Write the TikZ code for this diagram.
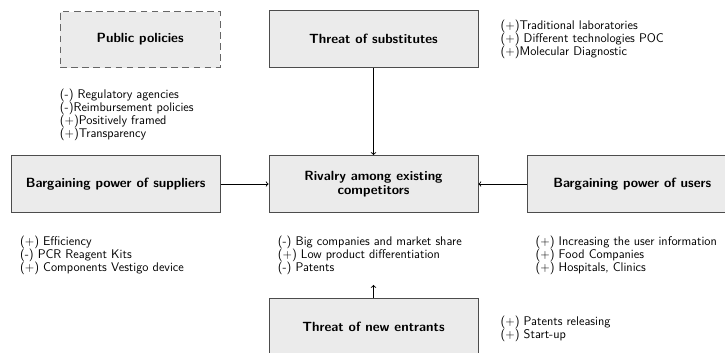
\documentclass[tikz,border=0pt]{standalone}
\usetikzlibrary{arrows,positioning}
\tikzstyle{every picture}+=[font=\sffamily]

\begin{document}
\begin{tikzpicture}
			[x=0.9pt, y=0.9pt, inner sep=0pt,
			force/.style		= {draw=black!70, fill=black!8, thick, minimum width=188pt, minimum height=51.3pt, font=\sffamily\bfseries\fontsize{12}{12.8}\selectfont, align=center},
			policy/.style		= {force, dash pattern=on 6pt off 4pt, draw=black!60, minimum width=144pt, minimum height=50.4pt},
			factors/.style		= {align=left, inner sep=0pt, font=\sffamily\fontsize{11.3}{11.7}\selectfont},
			push/.style			= {->, thick}]
			
			\useasboundingbox (0,0) rectangle (725,-353);
			
			\node [force]	at (373.5,-184)							(rival)		{Rivalry among existing\\competitors};
			\node [force]	[above = 78.3pt of rival]				(subst)		{Threat of substitutes};
			\node [force]	[below = 76.5pt of rival]				(entrant)	{Threat of new entrants};
			\node [force]	[left  = 43.2pt of rival]				(supplier)	{Bargaining power of suppliers};
			\node [force]	[right = 44.1pt of rival]				(user)		{Bargaining power of users};
			\node [policy]	[above left = 78.3pt and 43.2pt of rival.north west, anchor=south east]	(public)	{Public policies};
			
			\node [factors]	[below right = 18.9pt and 0pt of public.south west]	(publicf)
				{(-) Regulatory agencies\\(-)Reimbursement policies\\($+$)Positively framed\\($+$)Transparency};
			\node [factors]	[below right = 9pt and 19.8pt of subst.north east]	(substf)
				{($+$)Traditional laboratories\\($+$) Different technologies POC\\($+$)Molecular Diagnostic};
			\node [factors]	[below right = 20.7pt and 8.1pt of supplier.south west]	(supplierf)
				{($+$) Efficiency\\(-) PCR Reagent Kits\\($+$) Components Vestigo device};
			\node [factors]	[below right = 20.7pt and 8.1pt of rival.south west]	(rivalf)
				{(-) Big companies and market share\\($+$) Low product differentiation\\(-) Patents};
			\node [factors]	[below right = 20.7pt and 7.2pt of user.south west]	(userf)
				{($+$) Increasing the user information\\($+$) Food Companies\\($+$) Hospitals, Clinics};
			\node [factors]	[below right = 16.2pt and 19.8pt of entrant.north east]	(entrantf)
				{($+$) Patents releasing\\($+$) Start-up};
			
			\draw [push] (subst) -- (rival);
			\draw [push] (supplier) -- (rival);
			\draw [push] (user) -- (rival);
			\draw [push, shorten >=9pt] (entrant.north) -- (entrant.north |- rivalf.south);
\end{tikzpicture}
\end{document}
